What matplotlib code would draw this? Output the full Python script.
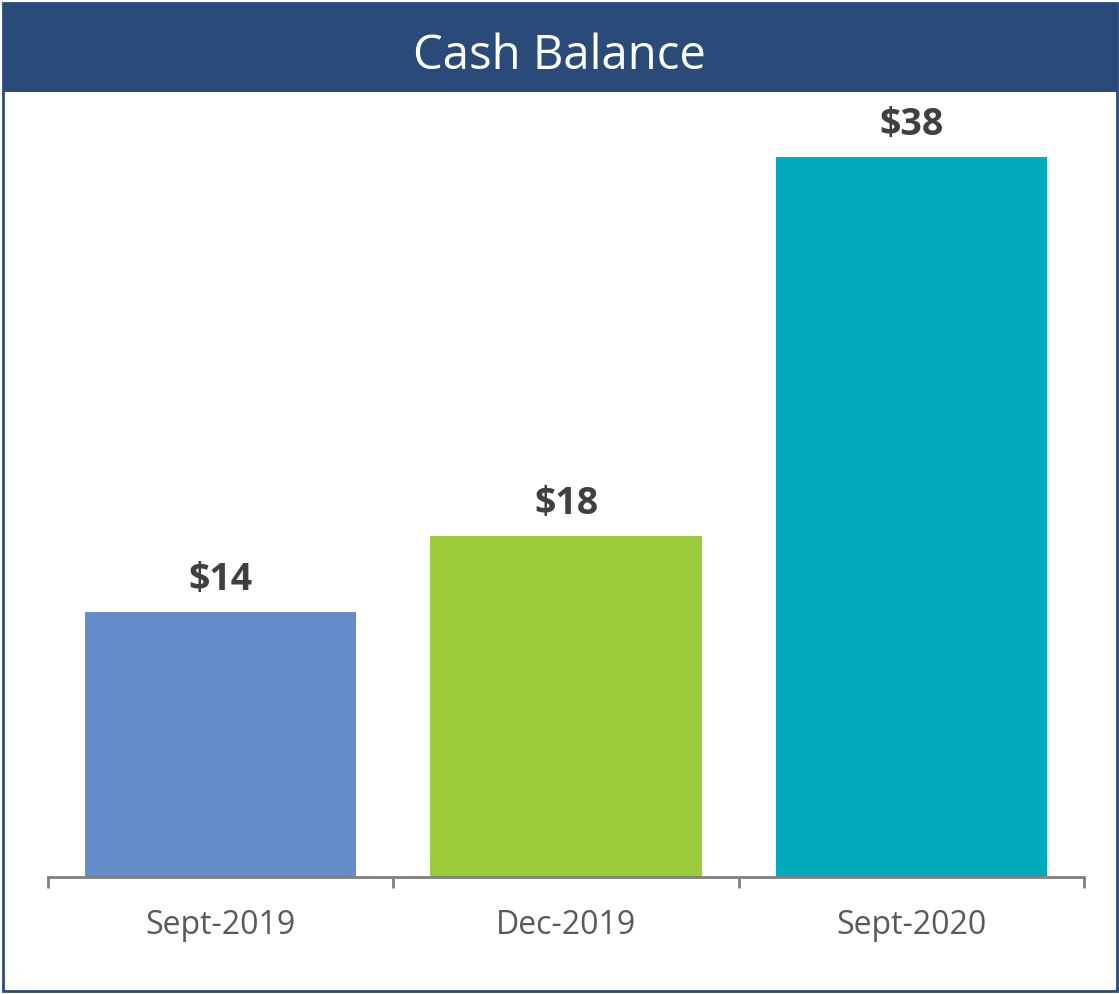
import matplotlib.pyplot as plt
from matplotlib.patches import Rectangle

categories = ['Sept-2019', 'Dec-2019', 'Sept-2020']
values = [14, 18, 38]
labels = ['$14', '$18', '$38']
colors = ['#658dc9', '#9ccb3b', '#03aabb']

plt.rcParams['font.family'] = ['Open Sans', 'DejaVu Sans']

W, H = 1119, 994
fig = plt.figure(figsize=(W / 100, H / 100), dpi=100)

# outer frame and title band
fig.patches.append(Rectangle((3 / W, 3 / H), 1114 / W, 988 / H, transform=fig.transFigure,
                             fill=False, edgecolor='#2a4a7a', linewidth=2))
fig.patches.append(Rectangle((3 / W, (H - 92) / H), 1114 / W, 89 / H, transform=fig.transFigure,
                             facecolor='#2a4a7a', edgecolor='none'))
fig.text(0.5, (H - 56) / H, 'Cash Balance', color='white', fontsize=34,
         ha='center', va='center')

ax = fig.add_axes([48 / W, (H - 877) / H, (1084 - 48) / W, (877 - 119) / H])
x = range(len(categories))
bars = ax.bar(x, values, width=0.785, color=colors)
ax.set_xlim(-0.5, len(categories) - 0.5)
ax.set_ylim(0, 40)

for b, lab in zip(bars, labels):
    ax.annotate(lab, (b.get_x() + b.get_width() / 2, b.get_height()),
                xytext=(0, 9), textcoords='offset points', ha='center', va='bottom',
                fontsize=27, fontweight='bold', color='#404040')

for s in ['top', 'right', 'left']:
    ax.spines[s].set_visible(False)
ax.spines['bottom'].set_color('#808080')
ax.spines['bottom'].set_linewidth(2)
ax.set_yticks([])
ax.set_xticks([-0.5, 0.5, 1.5, 2.5])
ax.set_xticklabels([])
ax.set_xticks(list(x), minor=True)
ax.set_xticklabels(categories, minor=True, fontsize=23, color='#595959')
ax.tick_params(axis='x', which='major', length=8, width=2, color='#808080')
ax.tick_params(axis='x', which='minor', length=0, pad=23)

fig.savefig('out.png', dpi=100)
